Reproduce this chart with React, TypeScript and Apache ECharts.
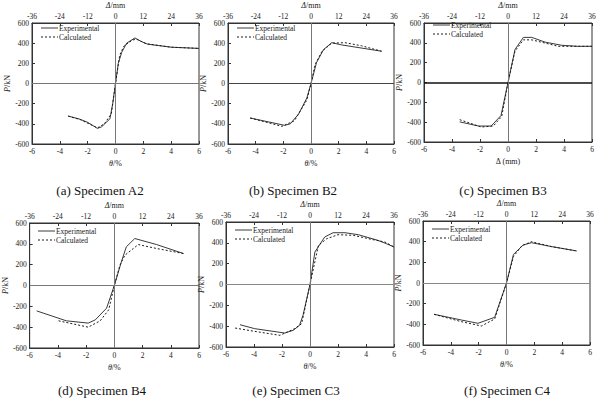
import React, { useEffect, useRef } from "react";
import * as echarts from "echarts";

// θ (%) , P (kN) pairs
const A2_EXP = [[-3.4, -323], [-2.6, -352], [-2.0, -385], [-1.3, -445], [-1.0, -430], [-0.4, -350], [-0.2, -200], [0, 0], [0.2, 200], [0.45, 310], [0.8, 400], [1.4, 452], [1.8, 420], [2.3, 390], [4.0, 360], [6.0, 348]];
const A2_CAL = [[-3.4, -323], [-2.5, -360], [-1.3, -440], [-0.8, -400], [-0.3, -300], [0, 0], [0.3, 280], [0.6, 370], [1.2, 430], [1.5, 440], [2.2, 395], [4.0, 360], [6.0, 348]];

const B2_EXP = [[-4.4, -342], [-1.9, -415], [-1.5, -400], [-0.9, -303], [-0.3, -144], [0, 0], [0.4, 208], [0.9, 335], [1.5, 405], [2.2, 383], [5.1, 320]];
const B2_CAL = [[-4.4, -342], [-2.1, -425], [-1.2, -370], [-0.3, -165], [0, 0], [0.3, 190], [0.8, 320], [1.5, 400], [2.45, 405], [3.65, 374], [5.1, 320]];

const B3_EXP = [[-3.45, -397], [-2.1, -439], [-1.2, -439], [-0.5, -333], [0, 0], [0.5, 333], [1.1, 455], [1.7, 455], [2.65, 407], [3.85, 375], [5.0, 365], [6.0, 365]];
const B3_CAL = [[-3.45, -375], [-1.9, -449], [-1.05, -439], [-0.45, -342], [0, 0], [0.5, 317], [1.1, 430], [1.7, 430], [3.6, 365], [6.0, 365]];

const B4_EXP = [[-5.5, -244], [-3.4, -339], [-1.85, -361], [-1.35, -330], [-0.55, -218], [0, 0], [0.5, 228], [0.85, 371], [1.45, 451], [3.0, 393], [4.9, 307]];
const B4_CAL = [[-3.95, -339], [-1.85, -400], [-1.0, -339], [-0.4, -234], [0, 0], [0.4, 196], [0.75, 291], [1.7, 393], [3.0, 355], [4.9, 307]];

const C3_EXP = [[-5.0, -386], [-3.95, -424], [-1.8, -466], [-1.2, -440], [-0.75, -392], [-0.5, -296], [0, 0], [0.35, 312], [1.05, 456], [1.65, 497], [2.5, 497], [3.45, 478], [4.85, 424], [5.45, 392], [6.0, 360]];
const C3_CAL = [[-5.35, -418], [-3.95, -450], [-2.15, -488], [-1.1, -424], [-0.6, -376], [0, 0], [0.6, 376], [1.2, 440], [2.0, 478], [3.1, 472], [4.4, 433], [5.35, 408], [6.0, 360]];

const C4_EXP = [[-5.2, -303], [-3.25, -358], [-2.05, -390], [-0.85, -332], [0, 0], [0.5, 277], [1.2, 368], [1.8, 390], [3.25, 352], [5.05, 310]];
const C4_CAL = [[-5.2, -303], [-3.25, -374], [-1.8, -416], [-0.85, -348], [0, 0], [0.5, 255], [1.1, 360], [1.8, 400], [3.25, 352], [5.05, 310]];

const CAPTIONS = ["(a) Specimen A2", "(b) Specimen B2", "(c) Specimen B3", "(d) Specimen B4", "(e) Specimen C3", "(f) Specimen C4"];
const LEGEND_NAMES = ["Experimental", "Calculated"];
const THETA_TICKS = [-6, 6, 2];
const DELTA_TICKS = [-36, 36, 12];
const P_TICKS = [-600, 600, 200];

const FONT = "'Liberation Serif', 'Times New Roman', serif";
const TXT = "#1a1a1a";
const EXP_COLOR = "#3a3a3a";
const CAL_COLOR = "#1a1a1a";

const PANELS = [
  { exp: A2_EXP, cal: A2_CAL, grid: { left: 32, top: 20, width: 167, height: 124 }, cap: [100, 190], bottomName: "{i|θ}/%", hColor: "#777" },
  { exp: B2_EXP, cal: B2_CAL, grid: { left: 228, top: 20, width: 166, height: 124 }, cap: [293, 190], bottomName: "{i|θ}/%", hColor: "#444" },
  { exp: B3_EXP, cal: B3_CAL, grid: { left: 424, top: 17, width: 168, height: 125 }, cap: [503, 190], bottomName: "Δ (mm)", hColor: "#111" },
  { exp: B4_EXP, cal: B4_CAL, grid: { left: 29, top: 223, width: 170, height: 125 }, cap: [102, 390], bottomName: "{i|θ}/%", hColor: "#777" },
  { exp: C3_EXP, cal: C3_CAL, grid: { left: 226, top: 222, width: 168, height: 125 }, cap: [296, 390], bottomName: "{i|θ}/%", hColor: "#888" },
  { exp: C4_EXP, cal: C4_CAL, grid: { left: 423, top: 221, width: 167, height: 124 }, cap: [507, 390], bottomName: "{i|θ}/%", hColor: "#888" },
];

export default function App() {
  const ref = useRef<HTMLDivElement>(null);
  useEffect(() => {
    if (!ref.current) return;
    document.body.style.margin = "0";
    const chart = echarts.init(ref.current, null, { renderer: "svg" });
    const grids: any[] = [];
    const xAxes: any[] = [];
    const yAxes: any[] = [];
    const series: any[] = [];
    const graphics: any[] = [];
    const labelStyle = { fontFamily: FONT, fontSize: 7.5, color: TXT };
    const rich = { i: { fontStyle: "italic", fontFamily: FONT, fontSize: 8, color: TXT } };
    const axisCommon = {
      axisLine: { onZero: false, lineStyle: { color: "#333" } },
      axisTick: { inside: true, length: 3, lineStyle: { color: "#333" } },
      axisLabel: { ...labelStyle, margin: 3 },
      splitLine: { show: false },
      nameTextStyle: { fontFamily: FONT, fontSize: 8, color: TXT, rich },
    };
    PANELS.forEach((p, i) => {
      grids.push({ ...p.grid, show: true, borderColor: "#333", borderWidth: 1, containLabel: false });
      xAxes.push({
        type: "value", gridIndex: i, position: "bottom",
        min: THETA_TICKS[0], max: THETA_TICKS[1], interval: THETA_TICKS[2],
        name: p.bottomName, nameLocation: "middle", nameGap: 15,
        ...axisCommon,
      });
      xAxes.push({
        type: "value", gridIndex: i, position: "top",
        min: DELTA_TICKS[0], max: DELTA_TICKS[1], interval: DELTA_TICKS[2],
        name: "{i|Δ}/mm", nameLocation: "middle", nameGap: 14,
        ...axisCommon,
      });
      yAxes.push({
        type: "value", gridIndex: i,
        min: P_TICKS[0], max: P_TICKS[1], interval: P_TICKS[2],
        name: "{i|P}/kN", nameLocation: "middle", nameGap: 19, nameRotate: 90,
        ...axisCommon,
      });
      series.push({
        name: LEGEND_NAMES[0], type: "line", xAxisIndex: i * 2, yAxisIndex: i,
        data: p.exp, showSymbol: false, symbol: "none",
        lineStyle: { color: EXP_COLOR, width: 1 },
        markLine: {
          silent: true, symbol: "none", label: { show: false },
          data: [
            { yAxis: 0, lineStyle: { color: p.hColor, width: p.hColor === "#111" ? 1.5 : 1, type: "solid" } },
            { xAxis: 0, lineStyle: { color: "#777", width: 1, type: "solid" } },
          ],
        },
        z: 3,
      });
      series.push({
        name: LEGEND_NAMES[1], type: "line", xAxisIndex: i * 2, yAxisIndex: i,
        data: p.cal, showSymbol: false, symbol: "none",
        lineStyle: { color: CAL_COLOR, width: 1, type: [2, 2] },
        z: 4,
      });
      const lx = p.grid.left + 9;
      const ly = p.grid.top + 8;
      [0, 1].forEach((k) => {
        const y = ly + k * 9;
        graphics.push({
          type: "line", silent: true,
          shape: { x1: lx, y1: y, x2: lx + 17, y2: y },
          style: k === 0
            ? { stroke: EXP_COLOR, lineWidth: 1 }
            : { stroke: CAL_COLOR, lineWidth: 1, lineDash: [2, 2] },
        });
        graphics.push({
          type: "text", silent: true, x: lx + 18, y,
          style: { text: LEGEND_NAMES[k], fontFamily: FONT, fontSize: 7.5, fill: TXT, align: "left", verticalAlign: "middle" },
        });
      });
      graphics.push({
        type: "text", x: p.cap[0], y: p.cap[1],
        style: { text: CAPTIONS[i], fontFamily: FONT, fontSize: 13, fill: "#111", align: "center", verticalAlign: "middle" },
      });
    });
    chart.setOption({
      animation: false,
      backgroundColor: "#fff",
      grid: grids,
      xAxis: xAxes,
      yAxis: yAxes,
      series,
      graphic: graphics,
    });
    return () => chart.dispose();
  }, []);
  return <div ref={ref} style={{ position: "absolute", left: 0, top: 0, width: 600, height: 399 }} />;
}
